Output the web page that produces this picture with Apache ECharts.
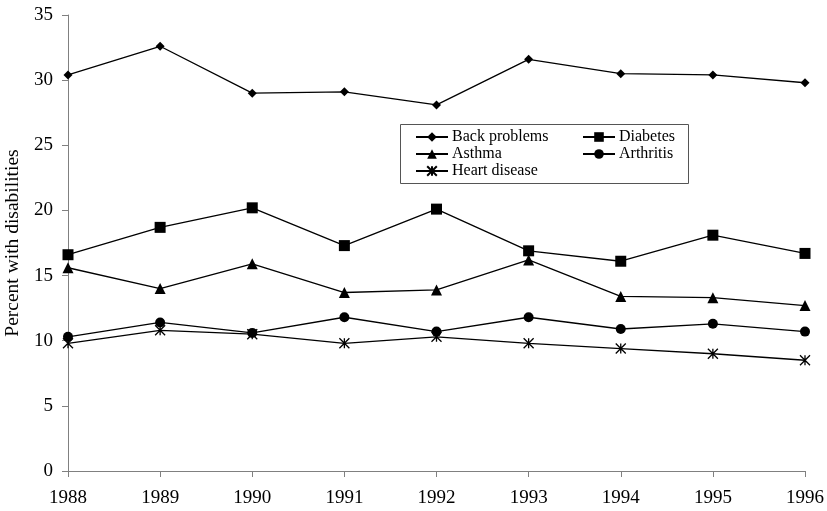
<!DOCTYPE html>
<html><head><meta charset="utf-8">
<script src="https://cdn.jsdelivr.net/npm/echarts@6/dist/echarts.min.js"></script>
<style>html,body{margin:0;padding:0;background:#fff}#c{width:827px;height:511px}</style>
</head><body><div id="c"></div>
<script>
const years = ['1988','1989','1990','1991','1992','1993','1994','1995','1996'];
const backProblems = [30.4, 32.6, 29.0, 29.1, 28.1, 31.6, 30.5, 30.4, 29.8];
const diabetes     = [16.6, 18.7, 20.2, 17.3, 20.1, 16.9, 16.1, 18.1, 16.7];
const asthma       = [15.6, 14.0, 15.9, 13.7, 13.9, 16.2, 13.4, 13.3, 12.7];
const arthritis    = [10.3, 11.4, 10.6, 11.8, 10.7, 11.8, 10.9, 11.3, 10.7];
const heartDisease = [9.8, 10.8, 10.5, 9.8, 10.3, 9.8, 9.4, 9.0, 8.5];
const yTicks = {min: 0, max: 35, interval: 5};

const font = 'Liberation Serif';
const star = 'path://M0 0 L10 10 M10 0 L0 10 M5 0 L5 10';
function mk(name, data, symbol, size, hollow) {
  return {
    name, type: 'line', data, symbol, symbolSize: size, showSymbol: true,
    lineStyle: {color: '#000', width: 1.3},
    itemStyle: hollow ? {color: 'rgba(0,0,0,0)', borderColor: '#000', borderWidth: 1.3} : {color: '#000', borderWidth: 0},
    emphasis: {disabled: true}, animation: false
  };
}
const legendText = {color: '#000', fontSize: 16, fontFamily: font, padding: [0,0,0,-1]};
const chart = echarts.init(document.getElementById('c'));
chart.setOption({
  backgroundColor: '#fff',
  textStyle: {fontFamily: font},
  grid: {left: 68, right: 22, top: 15, bottom: 40, containLabel: false, outerBoundsMode: 'none'},
  xAxis: {
    type: 'category', data: years, boundaryGap: false,
    axisLine: {lineStyle: {color: '#808080', width: 1}},
    axisTick: {length: 6, alignWithLabel: true, lineStyle: {color: '#808080'}},
    axisLabel: {color: '#000', fontSize: 19, fontFamily: font, margin: 18},
    splitLine: {show: false}
  },
  yAxis: {
    type: 'value', min: yTicks.min, max: yTicks.max, interval: yTicks.interval,
    name: 'Percent with disabilities', nameLocation: 'middle', nameGap: 42,
    nameTextStyle: {color: '#000', fontSize: 19.5, fontFamily: font},
    axisLine: {show: true, lineStyle: {color: '#808080', width: 1}},
    axisTick: {show: true, length: 6, lineStyle: {color: '#808080'}},
    axisLabel: {color: '#000', fontSize: 19, fontFamily: font, margin: 15},
    splitLine: {show: false}
  },
  legend: [
    {left: 415, top: 129, padding: 0, orient: 'vertical', itemWidth: 32, itemHeight: 12, itemGap: 1,
     data: ['Back problems', 'Asthma', 'Heart disease'],
     textStyle: legendText, selectedMode: false},
    {left: 582, top: 129, padding: 0, orient: 'vertical', itemWidth: 32, itemHeight: 12, itemGap: 1,
     data: ['Diabetes', 'Arthritis'],
     textStyle: legendText, selectedMode: false}
  ],
  graphic: [{type: 'rect', left: 398, top: 122, shape: {width: 288, height: 59},
    style: {fill: 'none', stroke: '#555', lineWidth: 1}, silent: true}],
  series: [
    mk('Back problems', backProblems, 'diamond', 9),
    mk('Diabetes', diabetes, 'rect', 11),
    mk('Asthma', asthma, 'triangle', 11),
    mk('Arthritis', arthritis, 'circle', 10),
    mk('Heart disease', heartDisease, star, 10, true)
  ]
});
</script></body></html>
